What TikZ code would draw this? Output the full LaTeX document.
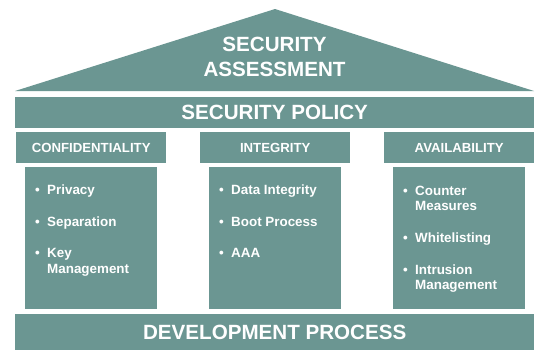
\documentclass[tikz,border=0pt]{standalone}
\usepackage{fontspec}
\setmainfont{Liberation Sans}
\definecolor{pillar}{HTML}{6B9692}
\tikzset{
  slab/.style={fill=pillar, draw=none, inner sep=0pt, anchor=north west},
  bigtext/.style={text=white, font=\bfseries\fontsize{20.6}{25}\selectfont, inner sep=0pt, align=center},
  headtext/.style={text=white, font=\bfseries\fontsize{13.2}{15}\selectfont, inner sep=0pt},
  itemtext/.style={text=white, font=\bfseries\fontsize{13.4}{15.5}\selectfont, inner sep=0pt, anchor=base west},
}
\begin{document}
\begin{tikzpicture}[x=1pt,y=-1pt]
\useasboundingbox (0,0) rectangle (541,351);
% roof
\fill[pillar] (15,91) -- (275,9) -- (534,91) -- cycle;
\node[bigtext] (roof) at (274.5,57) {SECURITY\\ASSESSMENT};
% policy
\node[slab, minimum width=519pt, minimum height=31pt] (policy) at (15,97) {};
\node[bigtext] (policyt) at (policy.center) {SECURITY POLICY};
% headers
\node[slab, minimum width=150pt, minimum height=31pt] (hconf) at (16,132) {};
\node[slab, minimum width=150pt, minimum height=31pt] (hint) at (200,132) {};
\node[slab, minimum width=150pt, minimum height=31pt] (havail) at (384,132) {};
\node[headtext] (hconft) at (hconf.center) {CONFIDENTIALITY};
\node[headtext] (hintt) at (hint.center) {INTEGRITY};
\node[headtext] (havailt) at (havail.center) {AVAILABILITY};
% boxes
\node[slab, minimum width=132pt, minimum height=142pt] (bconf) at (25,167) {};
\node[slab, minimum width=132pt, minimum height=142pt] (bint) at (209,167) {};
\node[slab, minimum width=132pt, minimum height=142pt] (bavail) at (393,167) {};
% confidentiality items
\node[itemtext] (c1b) at (35,194.5) {•};
\node[itemtext] (c1) at (47,194.5) {Privacy};
\node[itemtext] (c2b) at (35,226) {•};
\node[itemtext] (c2) at (47,226) {Separation};
\node[itemtext] (c3b) at (35,257.5) {•};
\node[itemtext] (c3) at (47,257.5) {Key};
\node[itemtext] (c3x) at (47,273) {Management};
% integrity items
\node[itemtext] (i1b) at (219,194.5) {•};
\node[itemtext] (i1) at (231,194.5) {Data Integrity};
\node[itemtext] (i2b) at (219,226) {•};
\node[itemtext] (i2) at (231,226) {Boot Process};
\node[itemtext] (i3b) at (219,257.5) {•};
\node[itemtext] (i3) at (231,257.5) {AAA};
% availability items
\node[itemtext] (a1b) at (403,195.5) {•};
\node[itemtext] (a1) at (415,195.5) {Counter};
\node[itemtext] (a1x) at (415,210.7) {Measures};
\node[itemtext] (a2b) at (403,242.4) {•};
\node[itemtext] (a2) at (415,242.4) {Whitelisting};
\node[itemtext] (a3b) at (403,274) {•};
\node[itemtext] (a3) at (415,274) {Intrusion};
\node[itemtext] (a3x) at (415,289.7) {Management};
% development
\node[slab, minimum width=519pt, minimum height=36pt] (dev) at (15,314) {};
\node[bigtext] (devt) at (dev.center) {DEVELOPMENT PROCESS};
\end{tikzpicture}
\end{document}
